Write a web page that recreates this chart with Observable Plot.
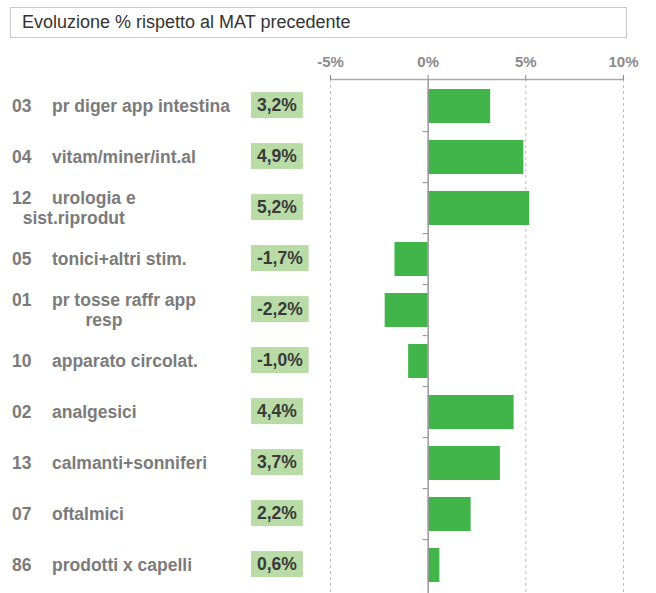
<!DOCTYPE html>
<html>
<head>
<meta charset="utf-8">
<script src="https://cdn.jsdelivr.net/npm/d3@7"></script>
<script src="https://cdn.jsdelivr.net/npm/@observablehq/plot@0.6"></script>
<style>
  body { margin: 0; background: #fff; font-family: "Liberation Sans", Arial, sans-serif; }
  #title { margin: 7px 0 0 10px; width: 617px; height: 31px; box-sizing: border-box;
           border: 1px solid #c8c8c8; font-size: 18px; color: #333; line-height: 29px; padding-left: 11px; }
  #chart { margin-top: 7px; }
  #chart svg { display: block; overflow: visible; }
</style>
</head>
<body>
<div id="title">Evoluzione % rispetto al MAT precedente</div>
<div id="chart"></div>
<script>
// ---- data ----
const codes  = ["03", "04", "12", "05", "01", "10", "02", "13", "07", "86"];
const names  = ["pr diger app intestina", "vitam/miner/int.al", "urologia e", "tonici+altri stim.",
                "pr tosse raffr app", "apparato circolat.", "analgesici", "calmanti+sonniferi",
                "oftalmici", "prodotti x capelli"];
const names2 = ["", "", "sist.riprodut", "", "resp", "", "", "", "", ""];
const values = [3.2, 4.9, 5.2, -1.7, -2.2, -1.0, 4.4, 3.7, 2.2, 0.6];
const xTicks = [-5, 0, 5, 10];

const rows = codes.map((c, i) => ({ code: c, name: names[i], name2: names2[i], value: values[i] }));
const fmt = v => v.toFixed(1).replace(".", ",") + "%";

const FONT = '"Liberation Sans", Arial, sans-serif';
const PAD = 0.33;
const FS = 17.5;
const canvas = document.createElement("canvas").getContext("2d");
function textWidth(t, size) { canvas.font = `bold ${size}px "Liberation Sans"`; return canvas.measureText(t).width; }

// custom mark: row labels, value boxes, small ticks on zero axis
function sideMark(index, scales) {
  const g = d3.create("svg:g").attr("font-family", FONT).attr("font-weight", "bold")
    .attr("text-anchor", "start");
  const step = scales.y(codes[1]) - scales.y(codes[0]);
  const bw = step * (1 - PAD);
  const x0 = scales.x(0);
  rows.forEach((r, i) => {
    const cy = scales.y(r.code) + bw / 2;
    const two = r.name2 !== "";
    const ly = two ? cy - 10 : cy;
    g.append("text").attr("x", 12).attr("y", ly).attr("dy", "0.35em").attr("text-anchor", "start")
      .attr("font-size", FS).attr("fill", "#7b7b7b").text(r.code);
    g.append("text").attr("x", 52).attr("y", ly).attr("dy", "0.35em").attr("text-anchor", "start")
      .attr("font-size", FS).attr("fill", "#7b7b7b").text(r.name);
    if (two) {
      const blockEnd = 52 + textWidth(r.name, FS);
      g.append("text").attr("x", (12 + blockEnd) / 2).attr("y", cy + 10).attr("dy", "0.35em")
        .attr("text-anchor", "middle").attr("font-size", FS).attr("fill", "#7b7b7b").text(r.name2);
    }
    const label = fmt(r.value);
    const tw = textWidth(label, FS);
    g.append("rect").attr("x", 251).attr("y", cy - 14).attr("width", tw + 12).attr("height", 26)
      .attr("fill", "#b9dca6");
    g.append("text").attr("x", 257).attr("y", cy - 1).attr("dy", "0.35em").attr("text-anchor", "start")
      .attr("font-size", FS).attr("fill", "#3a3a3a").text(label);
    if (i > 0) {
      const by = scales.y(r.code) - (step - bw) / 2;
      g.append("line").attr("x1", x0 - 5).attr("x2", x0).attr("y1", by).attr("y2", by)
        .attr("stroke", "#9a9a9a").attr("stroke-width", 1.2);
    }
  });
  return g.node();
}

const chart = Plot.plot({
  width: 656,
  height: 548,
  marginLeft: 330,
  marginRight: 33,
  marginTop: 34,
  marginBottom: 0,
  style: { fontFamily: FONT, background: "#fff", overflow: "visible" },
  x: { domain: [-5, 10], label: null },
  y: { domain: codes, paddingInner: PAD, paddingOuter: PAD / 2, axis: null },
  marks: [
    Plot.ruleX([-5, 5, 10], { stroke: "#bdbdbd", strokeWidth: 1, strokeDasharray: "3,3" }),
    Plot.barX(rows, { x: "value", y: "code", fill: "#42b54a" }),
    Plot.ruleX([0], { stroke: "#9a9a9a", strokeWidth: 1.5 }),
    Plot.frame({ anchor: "top", stroke: "#aaaaaa", strokeWidth: 1.5 }),
    Plot.axisX({ anchor: "top", ticks: xTicks, tickFormat: d => d + "%", tickSize: 5, tickPadding: 8,
                 fontSize: 15, fontWeight: "bold", color: "#8a8a8a", label: null }),
    sideMark
  ]
});
document.getElementById("chart").appendChild(chart);
</script>
</body>
</html>
